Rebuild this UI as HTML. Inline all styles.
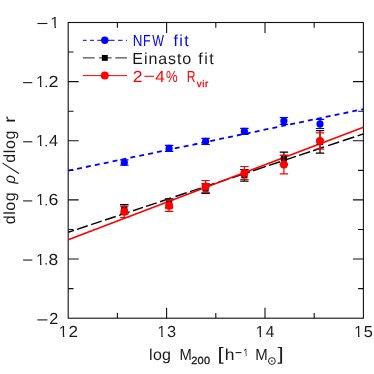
<!DOCTYPE html>
<html><head><meta charset="utf-8"><title>plot</title>
<style>
html,body{margin:0;padding:0;background:#fff;}
body{width:374px;height:374px;overflow:hidden;}
svg{display:block;will-change:transform;}
text{font-family:"Liberation Sans",sans-serif;font-kerning:none;white-space:pre;text-rendering:geometricPrecision;}
</style></head><body>
<svg width="374" height="374" viewBox="0 0 374 374">
<rect width="374" height="374" fill="#fff"/>

<rect x="68.2" y="22.5" width="295.20" height="295.70" fill="none" stroke="#111" stroke-width="1.1"/>
<path d="M117.40 318.2 v-5.3 M117.40 22.5 v5.3 M166.60 318.2 v-10.5 M166.60 22.5 v10.5 M215.80 318.2 v-5.3 M215.80 22.5 v5.3 M265.00 318.2 v-10.5 M265.00 22.5 v10.5 M314.20 318.2 v-5.3 M314.20 22.5 v5.3 M68.2 52.07 h5.3 M363.4 52.07 h-5.3 M68.2 81.64 h10.5 M363.4 81.64 h-10.5 M68.2 111.21 h5.3 M363.4 111.21 h-5.3 M68.2 140.78 h10.5 M363.4 140.78 h-10.5 M68.2 170.35 h5.3 M363.4 170.35 h-5.3 M68.2 199.92 h10.5 M363.4 199.92 h-10.5 M68.2 229.49 h5.3 M363.4 229.49 h-5.3 M68.2 259.06 h10.5 M363.4 259.06 h-10.5 M68.2 288.63 h5.3 M363.4 288.63 h-5.3" stroke="#111" stroke-width="1.1" fill="none"/>
<line x1="68.2" y1="170.7" x2="363.4" y2="109.1" stroke="#0000ff" stroke-width="1.8" stroke-dasharray="4.95 4.12"/>
<path d="M68.2 232.30 L74.0 230.37 M77.0 229.37 L87.7 225.80 M91.1 224.67 L101.7 221.13 M105.1 220.00 L115.7 216.47 M119.1 215.33 L129.6 211.83 M133.0 210.70 L143.0 207.37 M146.0 206.37 L156.6 202.83 M160.0 201.70 L171.0 198.03 M175.5 196.53 L186.7 192.80 M190.1 191.67 L200.8 188.10 M203.6 187.17 L214.5 183.53 M218.0 182.37 L228.5 178.87 M232.0 177.70 L242.5 174.20 M246.0 173.03 L250.0 171.70 M253.0 170.70 L266.0 166.37 M269.0 165.37 L280.0 161.70 M284.0 160.37 L296.0 156.37 M299.0 155.37 L310.0 151.70 M313.0 150.70 L324.0 147.03 M328.1 145.67 L339.1 142.00 M342.7 140.80 L354.2 136.97 M357.6 135.83 L363.4 133.90" stroke="#000" stroke-width="1.45" fill="none"/>
<line x1="68.2" y1="239.8" x2="363.4" y2="127.2" stroke="#ff0000" stroke-width="1.7"/>
<path d="M124.3 159.8 V165.2 M120.1 159.8 h8.4 M120.1 165.2 h8.4" stroke="#0000ff" stroke-width="1.2" fill="none"/>
<circle cx="124.3" cy="162.5" r="3.6" fill="#0000ff"/>
<path d="M169.1 145.4 V151.4 M164.9 145.4 h8.4 M164.9 151.4 h8.4" stroke="#0000ff" stroke-width="1.2" fill="none"/>
<circle cx="169.1" cy="148.4" r="3.6" fill="#0000ff"/>
<path d="M205.6 138.3 V144.5 M201.4 138.3 h8.4 M201.4 144.5 h8.4" stroke="#0000ff" stroke-width="1.2" fill="none"/>
<circle cx="205.6" cy="141.4" r="3.6" fill="#0000ff"/>
<path d="M244.4 128.3 V134.3 M240.2 128.3 h8.4 M240.2 134.3 h8.4" stroke="#0000ff" stroke-width="1.2" fill="none"/>
<circle cx="244.4" cy="131.3" r="3.6" fill="#0000ff"/>
<path d="M283.9 117.5 V124.3 M279.7 117.5 h8.4 M279.7 124.3 h8.4" stroke="#0000ff" stroke-width="1.2" fill="none"/>
<circle cx="283.9" cy="120.9" r="3.6" fill="#0000ff"/>
<path d="M320.0 119.3 V128.5 M315.8 119.3 h8.4 M315.8 128.5 h8.4" stroke="#0000ff" stroke-width="1.2" fill="none"/>
<circle cx="320.0" cy="123.9" r="3.6" fill="#0000ff"/>
<path d="M124.3 204.6 V213.8 M120.1 204.6 h8.4 M120.1 213.8 h8.4" stroke="#000" stroke-width="1.2" fill="none"/>
<rect x="121.2" y="206.1" width="6.2" height="6.2" fill="#000"/>
<path d="M169.1 198.8 V207.8 M164.9 198.8 h8.4 M164.9 207.8 h8.4" stroke="#000" stroke-width="1.2" fill="none"/>
<rect x="166.0" y="200.2" width="6.2" height="6.2" fill="#000"/>
<path d="M205.6 183.9 V193.3 M201.4 183.9 h8.4 M201.4 193.3 h8.4" stroke="#000" stroke-width="1.2" fill="none"/>
<rect x="202.5" y="185.5" width="6.2" height="6.2" fill="#000"/>
<path d="M244.4 169.5 V181.2 M240.2 169.5 h8.4 M240.2 181.2 h8.4" stroke="#000" stroke-width="1.2" fill="none"/>
<rect x="241.3" y="172.2" width="6.2" height="6.2" fill="#000"/>
<path d="M283.9 152.1 V164.3 M279.7 152.1 h8.4 M279.7 164.3 h8.4" stroke="#000" stroke-width="1.2" fill="none"/>
<rect x="280.8" y="155.1" width="6.2" height="6.2" fill="#000"/>
<path d="M320.0 130.6 V153.1 M315.8 130.6 h8.4 M315.8 153.1 h8.4" stroke="#000" stroke-width="1.2" fill="none"/>
<rect x="316.9" y="138.8" width="6.2" height="6.2" fill="#000"/>
<path d="M124.3 206.1 V217.5 M120.1 206.1 h8.4 M120.1 217.5 h8.4" stroke="#ff0000" stroke-width="1.2" fill="none"/>
<circle cx="124.3" cy="211.8" r="4.0" fill="#ff0000"/>
<path d="M169.1 200.1 V211.3 M164.9 200.1 h8.4 M164.9 211.3 h8.4" stroke="#ff0000" stroke-width="1.2" fill="none"/>
<circle cx="169.1" cy="205.7" r="4.0" fill="#ff0000"/>
<path d="M205.6 180.5 V192.5 M201.4 180.5 h8.4 M201.4 192.5 h8.4" stroke="#ff0000" stroke-width="1.2" fill="none"/>
<circle cx="205.6" cy="186.5" r="4.0" fill="#ff0000"/>
<path d="M244.4 166.5 V179.5 M240.2 166.5 h8.4 M240.2 179.5 h8.4" stroke="#ff0000" stroke-width="1.2" fill="none"/>
<circle cx="244.4" cy="173.0" r="4.0" fill="#ff0000"/>
<path d="M283.9 155.2 V173.9 M279.7 155.2 h8.4 M279.7 173.9 h8.4" stroke="#ff0000" stroke-width="1.2" fill="none"/>
<circle cx="283.9" cy="164.55" r="4.0" fill="#ff0000"/>
<path d="M320.0 132.8 V149.2 M315.8 132.8 h8.4 M315.8 149.2 h8.4" stroke="#ff0000" stroke-width="1.2" fill="none"/>
<circle cx="320.0" cy="141.0" r="4.0" fill="#ff0000"/>
<path d="M82.9 40.3 H86.7 M90 40.3 H94 M97.3 40.3 H101.5 M108 40.3 H114.6 M117.9 40.3 H122.6 M125.9 40.3 H127" stroke="#0000ff" stroke-width="1" fill="none"/>
<circle cx="104.8" cy="40.3" r="3.7" fill="#0000ff"/>
<path d="M82.9 57.9 H94.7 M99.1 57.9 H111.6 M115.3 57.9 H127" stroke="#222" stroke-width="1" fill="none"/>
<rect x="101.85" y="54.949999999999996" width="5.9" height="5.9" fill="#000"/>
<path d="M82.9 75.6 H127" stroke="#ff0000" stroke-width="1" fill="none"/>
<circle cx="104.8" cy="75.6" r="4.0" fill="#ff0000"/>
<text transform="translate(132.70 46.40) scale(0.839 1)" font-size="16.0" fill="#0000ff">N</text>
<text transform="translate(142.88 46.40) scale(0.780 1)" font-size="16.0" fill="#0000ff">F</text>
<text transform="translate(152.25 46.40) scale(0.775 1)" font-size="16.0" fill="#0000ff">W</text>
<text transform="translate(173.57 46.40) scale(1.000 1)" font-size="16.0" fill="#0000ff" letter-spacing="1.299">fit</text>
<text transform="translate(132.29 64.10) scale(1.000 1)" font-size="16.0" fill="#1a1a1a" letter-spacing="0.936">Einasto</text>
<text transform="translate(198.37 64.10) scale(1.000 1)" font-size="16.0" fill="#1a1a1a" letter-spacing="1.499">fit</text>
<text transform="translate(132.72 81.70) scale(1.098 1)" font-size="16.0" fill="#ff0000">2</text>
<line x1="144.5" y1="76.3" x2="154.0" y2="76.3" stroke="#ff0000" stroke-width="1.1"/>
<text transform="translate(155.21 81.70) scale(1.067 1)" font-size="16.0" fill="#ff0000">4</text>
<text transform="translate(165.93 81.70) scale(0.818 1)" font-size="16.0" fill="#ff0000">%</text>
<text transform="translate(186.81 81.70) scale(0.758 1)" font-size="16.0" fill="#ff0000">R</text>
<text transform="translate(196.87 86.50) scale(1.000 1)" font-size="9.8" fill="#ff0000" letter-spacing="0.578" stroke="#ff0000" stroke-width="0.3">vir</text>
<clipPath id="c1"><path d="M51.14 12.00 H55.95 V29.00 H54.49 V25.80 H51.14 Z"/></clipPath>
<g clip-path="url(#c1)"><text x="50.36" y="28.00" font-size="16.0" fill="#1a1a1a">1</text></g>
<line x1="37.4" y1="23.50" x2="47.4" y2="23.50" stroke="#1a1a1a" stroke-width="1.1"/>
<clipPath id="c2"><path d="M36.74 71.14 H41.55 V88.14 H40.09 V84.80 H36.74 Z"/></clipPath>
<g clip-path="url(#c2)"><text x="35.96" y="87.14" font-size="16.0" fill="#1a1a1a">1</text></g>
<rect x="45.5" y="85.74" width="1.4" height="1.4" fill="#1a1a1a"/>
<text transform="translate(48.39 87.14) scale(1.125 1)" font-size="16.0" fill="#1a1a1a">2</text>
<line x1="23.1" y1="82.64" x2="32.3" y2="82.64" stroke="#1a1a1a" stroke-width="1.1"/>
<clipPath id="c3"><path d="M36.74 130.28 H41.55 V147.28 H40.09 V143.80 H36.74 Z"/></clipPath>
<g clip-path="url(#c3)"><text x="35.96" y="146.28" font-size="16.0" fill="#1a1a1a">1</text></g>
<rect x="45.5" y="144.88" width="1.4" height="1.4" fill="#1a1a1a"/>
<text transform="translate(48.93 146.28) scale(1.017 1)" font-size="16.0" fill="#1a1a1a">4</text>
<line x1="23.1" y1="141.78" x2="32.3" y2="141.78" stroke="#1a1a1a" stroke-width="1.1"/>
<clipPath id="c4"><path d="M36.74 189.42 H41.55 V206.42 H40.09 V202.80 H36.74 Z"/></clipPath>
<g clip-path="url(#c4)"><text x="35.96" y="205.42" font-size="16.0" fill="#1a1a1a">1</text></g>
<rect x="45.5" y="204.02" width="1.4" height="1.4" fill="#1a1a1a"/>
<text transform="translate(48.40 205.42) scale(1.111 1)" font-size="16.0" fill="#1a1a1a">6</text>
<line x1="23.1" y1="200.92" x2="32.3" y2="200.92" stroke="#1a1a1a" stroke-width="1.1"/>
<clipPath id="c5"><path d="M36.74 248.56 H41.55 V265.56 H40.09 V262.80 H36.74 Z"/></clipPath>
<g clip-path="url(#c5)"><text x="35.96" y="264.56" font-size="16.0" fill="#1a1a1a">1</text></g>
<rect x="45.5" y="263.16" width="1.4" height="1.4" fill="#1a1a1a"/>
<text transform="translate(48.54 264.56) scale(1.092 1)" font-size="16.0" fill="#1a1a1a">8</text>
<line x1="23.1" y1="260.06" x2="32.3" y2="260.06" stroke="#1a1a1a" stroke-width="1.1"/>
<text transform="translate(49.28 324.40) scale(1.015 1)" font-size="16.0" fill="#1a1a1a">2</text>
<line x1="37.4" y1="319.90" x2="47.4" y2="319.90" stroke="#1a1a1a" stroke-width="1.1"/>
<clipPath id="c6"><path d="M59.54 321.40 H64.35 V338.40 H62.89 V334.80 H59.54 Z"/></clipPath>
<g clip-path="url(#c6)"><text x="58.76" y="337.40" font-size="16.0" fill="#1a1a1a">1</text></g>
<text transform="translate(68.44 337.40) scale(1.063 1)" font-size="16.0" fill="#1a1a1a">2</text>
<clipPath id="c7"><path d="M157.94 321.40 H162.75 V338.40 H161.29 V334.80 H157.94 Z"/></clipPath>
<g clip-path="url(#c7)"><text x="157.16" y="337.40" font-size="16.0" fill="#1a1a1a">1</text></g>
<text transform="translate(167.08 337.40) scale(1.022 1)" font-size="16.0" fill="#1a1a1a">3</text>
<clipPath id="c8"><path d="M256.34 321.40 H261.15 V338.40 H259.69 V334.80 H256.34 Z"/></clipPath>
<g clip-path="url(#c8)"><text x="255.56" y="337.40" font-size="16.0" fill="#1a1a1a">1</text></g>
<text transform="translate(265.75 337.40) scale(0.961 1)" font-size="16.0" fill="#1a1a1a">4</text>
<clipPath id="c9"><path d="M354.74 321.40 H359.55 V338.40 H358.09 V334.80 H354.74 Z"/></clipPath>
<g clip-path="url(#c9)"><text x="353.96" y="337.40" font-size="16.0" fill="#1a1a1a">1</text></g>
<text transform="translate(363.85 337.40) scale(1.022 1)" font-size="16.0" fill="#1a1a1a">5</text>
<text transform="translate(149.12 359.70) scale(1.000 1)" font-size="16.0" fill="#1a1a1a" letter-spacing="0.229">log</text>
<text transform="translate(179.39 359.70) scale(0.925 1)" font-size="16.0" fill="#1a1a1a">M</text>
<text transform="translate(191.25 364.40) scale(1.060 1)" font-size="10.4" fill="#1a1a1a" letter-spacing="0.232" stroke="#1a1a1a" stroke-width="0.3">200</text>
<text transform="translate(217.52 359.90) scale(1.384 1.13)" font-size="16.0" fill="#1a1a1a">[</text>
<text transform="translate(224.68 359.70) scale(1.096 1)" font-size="16.0" fill="#1a1a1a">h</text>
<line x1="235.6" y1="352.6" x2="241.4" y2="352.6" stroke="#1a1a1a" stroke-width="1.1"/>
<clipPath id="c10"><path d="M243.47 345.60 H246.65 V357.00 H245.68 V354.22 H243.47 Z"/></clipPath>
<g clip-path="url(#c10)"><text x="242.97" y="356.00" font-size="10.4" fill="#1a1a1a">1</text></g>
<text transform="translate(255.27 359.70) scale(0.934 1)" font-size="16.0" fill="#1a1a1a">M</text>
<circle cx="271.9" cy="361" r="3.4" fill="none" stroke="#1a1a1a" stroke-width="0.95"/><circle cx="271.9" cy="361" r="0.85" fill="#1a1a1a"/>
<text transform="translate(277.43 359.90) scale(1.384 1.13)" font-size="16.0" fill="#1a1a1a">]</text>
<text transform="translate(15.20 224.37) rotate(-90) scale(1.000 1)" font-size="16.0" fill="#1a1a1a" letter-spacing="0.618">dlog</text>
<text transform="translate(15.20 183.73) rotate(-90) scale(0.938 1)" font-size="16.0" fill="#1a1a1a" font-style="italic">ρ</text>
<line x1="18.9" y1="173.5" x2="2.6" y2="163.1" stroke="#1a1a1a" stroke-width="1.1"/>
<text transform="translate(15.20 162.77) rotate(-90) scale(1.000 1)" font-size="16.0" fill="#1a1a1a" letter-spacing="0.618">dlog</text>
<text transform="translate(15.20 122.98) rotate(-90) scale(1.300 1)" font-size="16.0" fill="#1a1a1a">r</text>
</svg></body></html>
